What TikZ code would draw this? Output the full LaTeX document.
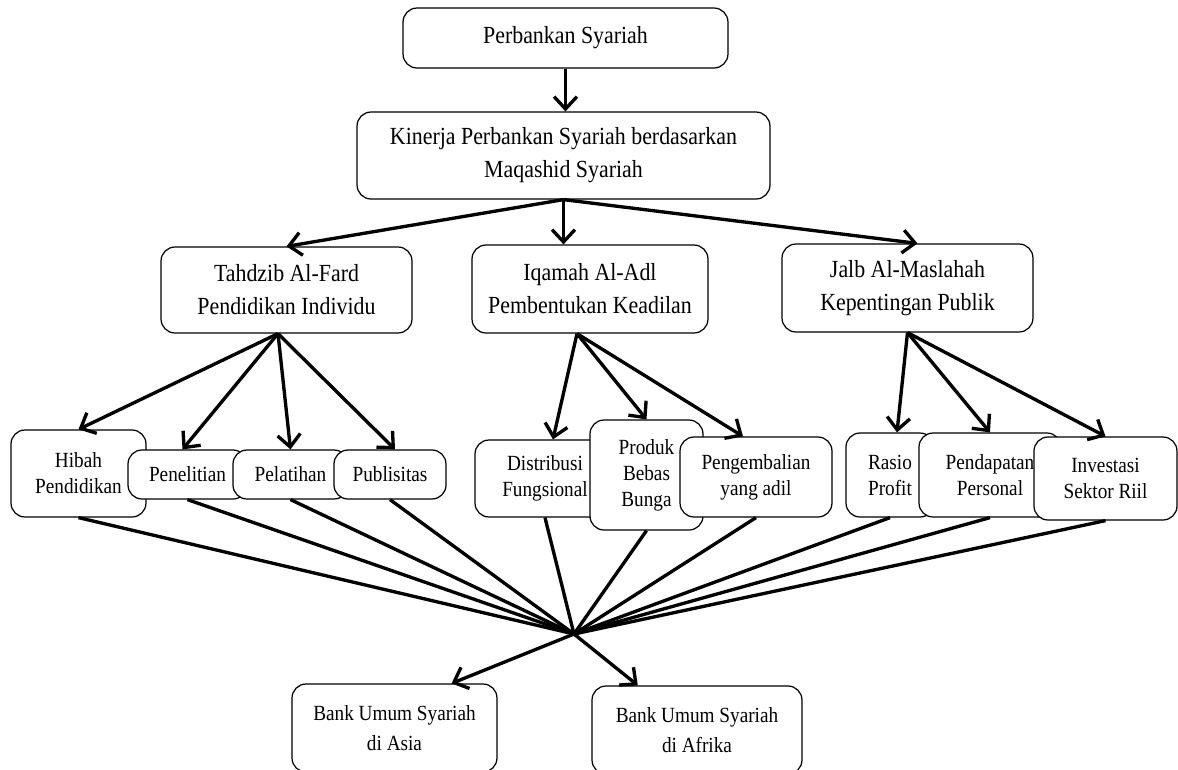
\documentclass[tikz,border=0pt]{standalone}
\usepackage{fontspec}
\setmainfont[FakeStretch=0.89]{Liberation Serif}
\usetikzlibrary{arrows.meta,positioning}

\begin{document}
\begin{tikzpicture}[x=0.02cm,y=-0.02cm,
  boxstyle/.style={draw,rounded corners=0.28cm,fill=white,align=center,line width=0.7pt,font=\fontsize{14}{18.8}\selectfont},
  leafstyle/.style={boxstyle,font=\fontsize{12.3}{14.8}\selectfont},
  endstyle/.style={boxstyle,font=\fontsize{12.3}{17}\selectfont},
  arrowstyle/.style={line width=1.9pt,-{Straight Barb[length=7pt,width=13pt]}},
  linestyle/.style={line width=1.9pt}]
\useasboundingbox (0,0) rectangle (1178,769);
\node[boxstyle,minimum width=6.5cm,minimum height=1.2cm] (bank) at (565.5,38) {Perbankan Syariah};
\node[boxstyle,minimum width=8.26cm,minimum height=1.74cm] (kinerja) at (563.5,155.5) {Kinerja Perbankan Syariah berdasarkan\\Maqashid Syariah};
\node[boxstyle,minimum width=5.02cm,minimum height=1.72cm] (tahdzib) at (286.5,290) {Tahdzib Al-Fard\\Pendidikan Individu};
\node[boxstyle,minimum width=4.72cm,minimum height=1.76cm] (iqamah) at (590,289) {Iqamah Al-Adl\\Pembentukan Keadilan};
\node[boxstyle,minimum width=5.02cm,minimum height=1.76cm] (jalb) at (907.5,288) {Jalb Al-Maslahah\\Kepentingan Publik};
% indikator
\node[leafstyle,minimum width=2.7cm,minimum height=1.74cm] (hibah) at (78.5,473.5) {Hibah\\Pendidikan};
\node[leafstyle,minimum width=2.38cm,minimum height=0.98cm] (penelitian) at (187.5,474.5) {Penelitian};
\node[leafstyle,minimum width=2.3cm,minimum height=0.98cm] (pelatihan) at (290.5,474.5) {Pelatihan};
\node[leafstyle,minimum width=2.24cm,minimum height=0.98cm] (publisitas) at (390,474.5) {Publisitas};
\node[leafstyle,minimum width=2.8cm,minimum height=1.54cm] (distribusi) at (545,478.5) {Distribusi\\Fungsional};
\node[leafstyle,minimum width=2.26cm,minimum height=2.2cm] (produk) at (646.5,475) {Produk\\Bebas\\Bunga};
\node[leafstyle,minimum width=3.04cm,minimum height=1.6cm] (pengembalian) at (756,477) {Pengembalian\\yang adil};
\node[leafstyle,minimum width=1.76cm,minimum height=1.68cm] (rasio) at (890,475) {Rasio\\Profit};
\node[leafstyle,minimum width=2.84cm,minimum height=1.68cm] (pendapatan) at (990,475) {Pendapatan\\Personal};
\node[leafstyle,minimum width=2.86cm,minimum height=1.66cm] (investasi) at (1105.5,478.5) {Investasi\\Sektor Riil};
% sampel
\node[endstyle,minimum width=4.1cm,minimum height=1.76cm] (asia) at (394.5,728) {Bank Umum Syariah\\di Asia};
\node[endstyle,minimum width=4.2cm,minimum height=1.76cm] (afrika) at (697,730) {Bank Umum Syariah\\di Afrika};
\coordinate (hub) at (574,634);

\draw[arrowstyle] (bank.south) -- (bank.south |- kinerja.north);
\draw[arrowstyle] (kinerja.south) -- (tahdzib.north);
\draw[arrowstyle] (kinerja.south) -- (kinerja.south |- iqamah.north);
\draw[arrowstyle] (kinerja.south) -- ([xshift=0.2cm]jalb.north);
\foreach \n/\s in {hibah/0,penelitian/-0.1,pelatihan/0,publisitas/0.1}
  \draw[arrowstyle] ([xshift=-0.17cm]tahdzib.south) -- ([xshift=\s cm]\n.north);
\foreach \n/\s in {distribusi/0.16,produk/0,pengembalian/-0.26}
  \draw[arrowstyle] ([xshift=-0.26cm]iqamah.south) -- ([xshift=\s cm]\n.north);
\foreach \n/\s in {rasio/0.14,pendapatan/0,investasi/0}
  \draw[arrowstyle] (jalb.south) -- ([xshift=\s cm]\n.north);
\foreach \n in {hibah,penelitian,pelatihan,publisitas,distribusi,produk,pengembalian,rasio,pendapatan,investasi}
  \draw[linestyle] (\n.south) -- (hub);
\draw[arrowstyle] (hub) -- (asia.38);
\draw[arrowstyle] (hub) -- (afrika.143);
\end{tikzpicture}
\end{document}
